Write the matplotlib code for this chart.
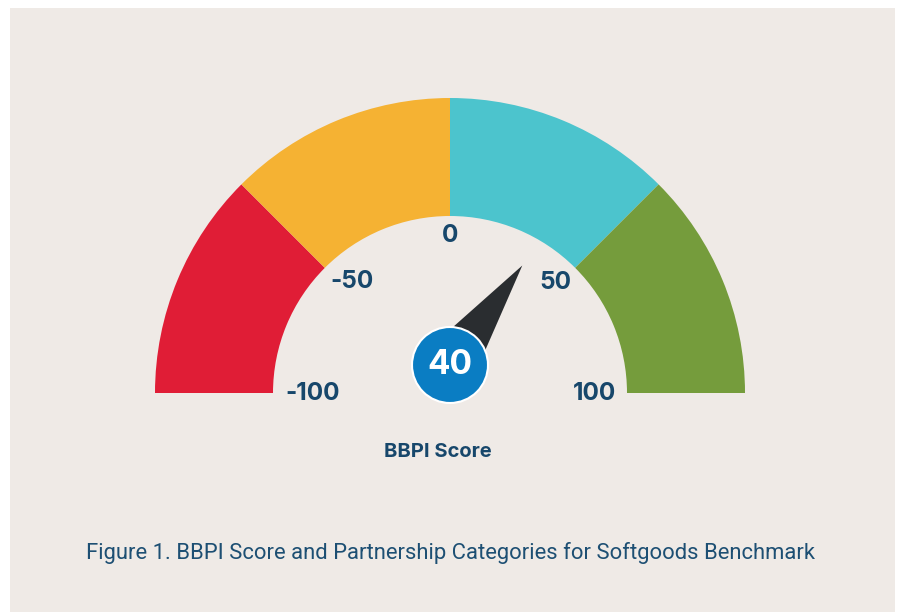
import numpy as np
import matplotlib
matplotlib.use("Agg")
import matplotlib.pyplot as plt
from matplotlib.patches import Wedge, Rectangle, Circle, Polygon

# ---- data ----
band_edges = [-100, -50, 0, 50, 100]
band_colors = ["#e01d36", "#f5b233", "#4cc4cd", "#759c3c"]
tick_values = [-100, -50, 0, 50, 100]
tick_labels = ["-100", "-50", "0", "50", "100"]
score = 40
axis_title = "BBPI Score"
caption = "Figure 1. BBPI Score and Partnership Categories for Softgoods Benchmark"

W, H = 901, 612
fig = plt.figure(figsize=(W / 100, H / 100), dpi=100)
ax = fig.add_axes([0, 0, 1, 1])
ax.set_xlim(0, W)
ax.set_ylim(0, H)
ax.set_aspect("equal")
ax.axis("off")
fig.patch.set_facecolor("white")

bg = "#efeae6"
ax.add_patch(Rectangle((10, 0), 885, 604, facecolor=bg, edgecolor="none", zorder=0))

cx, cy = 450, 219
R_out, R_in = 295, 177
vmin, vmax = band_edges[0], band_edges[-1]


def ang(v):
    return 180.0 - (v - vmin) / (vmax - vmin) * 180.0


for lo, hi, col in zip(band_edges[:-1], band_edges[1:], band_colors):
    ax.add_patch(Wedge((cx, cy), R_out, ang(hi), ang(lo), width=R_out - R_in,
                       facecolor=col, edgecolor="none", zorder=1))

label_color = "#17476b"
# label placement nudges (dx, dy in pixels) relative to a radius-150 anchor
nudges = {-100: (13, -1), -50: (8, 5), 0: (0, 7), 50: (-1, 4), 100: (-5, -1)}
for v, lab in zip(tick_values, tick_labels):
    a = np.deg2rad(ang(v))
    r = 150
    dx, dy = nudges[v]
    x = cx + r * np.cos(a) + dx
    y = cy + r * np.sin(a) + dy
    ax.text(x, y, lab, ha="center", va="center", fontsize=17.5, fontweight="bold",
            family="Inter", color=label_color, zorder=3)

# needle
px, py = 450, 247
a = np.deg2rad(ang(score))
L = 123
tip = (px + L * np.cos(a), py + L * np.sin(a))
hw = 27
perp = (-np.sin(a), np.cos(a))
b1 = (px + hw * perp[0], py + hw * perp[1])
b2 = (px - hw * perp[0], py - hw * perp[1])
ax.add_patch(Polygon([tip, b1, b2], closed=True, facecolor="#2a2d30",
                     edgecolor="none", zorder=4))
ax.add_patch(Circle((px, py), 38, facecolor="#0a7dc3", edgecolor="white",
                    linewidth=1.5, zorder=5))
ax.text(px, py, str(score), ha="center", va="center", fontsize=24,
        fontweight="bold", family="Inter", color="white", zorder=6)

ax.text(437.5, 612 - 452, axis_title, ha="center", va="center", fontsize=14.5,
        fontweight="bold", family="Inter", color=label_color, zorder=3)

ax.text(450, 612 - 553, caption, ha="center", va="center", fontsize=15.8,
        family="Roboto", color="#1d4f73", zorder=3)

fig.savefig("out.png", dpi=100, facecolor="white")
